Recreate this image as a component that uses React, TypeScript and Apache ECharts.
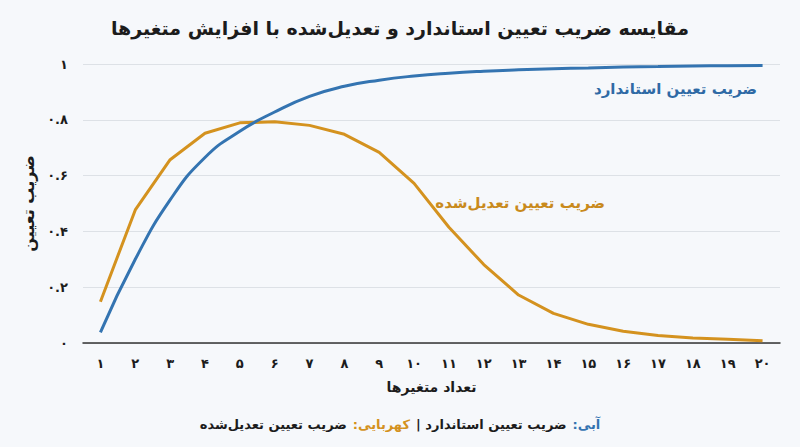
import React, { useEffect, useRef } from 'react';
import * as echarts from 'echarts';

const categories = ['۱', '۲', '۳', '۴', '۵', '۶', '۷', '۸', '۹', '۱۰', '۱۱', '۱۲', '۱۳', '۱۴', '۱۵', '۱۶', '۱۷', '۱۸', '۱۹', '۲۰'];
const standardR2 = [0.038, 0.3, 0.513, 0.665, 0.759, 0.828, 0.884, 0.92, 0.942, 0.957, 0.967, 0.974, 0.979, 0.983, 0.986, 0.989, 0.991, 0.993, 0.994, 0.995];
const adjustedR2 = [0.148, 0.477, 0.657, 0.752, 0.789, 0.793, 0.78, 0.748, 0.683, 0.572, 0.415, 0.281, 0.172, 0.106, 0.067, 0.042, 0.027, 0.018, 0.013, 0.008];

const FONT = '"DejaVu Sans", sans-serif';
const BLUE = '#3474b1';
const AMBER = '#d4921f';
const DARK = '#1c1c1c';

const faDigits = (s: string) => s.replace(/[0-9]/g, (d) => '۰۱۲۳۴۵۶۷۸۹'[+d]);

export default function App() {
  const chartRef = useRef<HTMLDivElement>(null);

  useEffect(() => {
    const myChart = echarts.init(chartRef.current, null, { renderer: 'svg' });
    const option = {
      animation: false,
      backgroundColor: '#f6f8fb',
      textStyle: { fontFamily: FONT },
      title: {
        text: 'مقایسه ضریب تعیین استاندارد و تعدیل‌شده با افزایش متغیرها',
        left: 'center',
        top: 13,
        textStyle: { fontFamily: FONT, fontSize: 19, fontWeight: 'bold', color: DARK }
      },
      grid: { left: 83, right: 20, top: 64, bottom: 104 },
      xAxis: {
        type: 'category',
        data: categories,
        boundaryGap: true,
        name: 'تعداد متغیرها',
        nameLocation: 'middle',
        nameGap: 37,
        nameTextStyle: { fontFamily: FONT, fontSize: 14, fontWeight: 'bold', color: DARK },
        axisLine: { lineStyle: { color: '#333', width: 1.5 } },
        axisTick: { show: false },
        axisLabel: { margin: 14, fontSize: 13, fontWeight: 'bold', color: DARK, fontFamily: FONT }
      },
      yAxis: {
        type: 'value',
        min: 0,
        max: 1,
        interval: 0.2,
        name: 'ضریب تعیین',
        nameLocation: 'middle',
        nameGap: 36,
        nameTextStyle: { fontFamily: FONT, fontSize: 16, fontWeight: 'bold', color: DARK },
        axisLine: { show: false },
        axisTick: { show: false },
        splitLine: { lineStyle: { color: '#dde1e6', width: 1 } },
        axisLabel: {
          margin: 15,
          fontSize: 13,
          fontWeight: 'bold',
          color: DARK,
          fontFamily: FONT,
          formatter: (v: number) => faDigits(String(Math.round(v * 10) / 10))
        }
      },
      series: [
        {
          name: 'ضریب تعیین استاندارد',
          type: 'line',
          data: standardR2,
          smooth: true,
          symbol: 'none',
          lineStyle: { color: BLUE, width: 3 },
          z: 3
        },
        {
          name: 'ضریب تعیین تعدیل‌شده',
          type: 'line',
          data: adjustedR2,
          symbol: 'none',
          lineStyle: { color: AMBER, width: 3 },
          z: 2
        }
      ],
      graphic: [
        {
          type: 'text',
          x: 757,
          y: 89,
          style: {
            text: 'ضریب تعیین استاندارد',
            fill: '#2f6aa5',
            font: 'bold 15px ' + FONT,
            align: 'right',
            verticalAlign: 'middle'
          }
        },
        {
          type: 'text',
          x: 605,
          y: 203,
          style: {
            text: 'ضریب تعیین تعدیل‌شده',
            fill: '#c98a1c',
            font: 'bold 15px ' + FONT,
            align: 'right',
            verticalAlign: 'middle'
          }
        },
        {
          type: 'text',
          x: 400,
          y: 424,
          style: {
            text: '{d|ضریب تعیین تعدیل‌شده}{o|کهربایی:\u200F}{d|| ضریب تعیین استاندارد}{b|آبی:\u200F}',
            align: 'center',
            verticalAlign: 'middle',
            rich: {
              d: { fill: DARK, fontFamily: FONT, fontSize: 13, fontWeight: 'bold', padding: [0, 3] },
              o: { fill: AMBER, fontFamily: FONT, fontSize: 13, fontWeight: 'bold', padding: [0, 3] },
              b: { fill: BLUE, fontFamily: FONT, fontSize: 13, fontWeight: 'bold', padding: [0, 3] }
            }
          }
        }
      ]
    };
    myChart.setOption(option);
    return () => {
      myChart.dispose();
    };
  }, []);

  return (
    <div
      ref={chartRef}
      style={{ position: 'fixed', left: 0, top: 0, width: '800px', height: '447px' }}
    ></div>
  );
}
